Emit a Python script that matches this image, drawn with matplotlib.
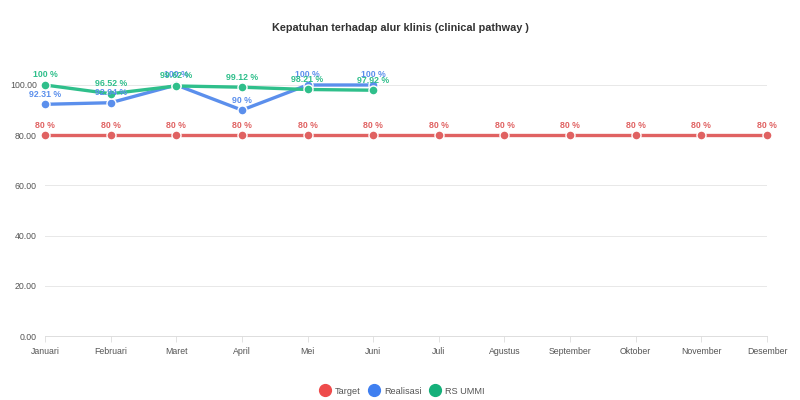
import matplotlib
matplotlib.use('Agg')
import matplotlib.pyplot as plt
from matplotlib.lines import Line2D

plt.rcParams['font.family'] = ['Liberation Sans', 'DejaVu Sans']

months = ['Januari', 'Februari', 'Maret', 'April', 'Mei', 'Juni', 'Juli',
          'Agustus', 'September', 'Oktober', 'November', 'Desember']
target = [80, 80, 80, 80, 80, 80, 80, 80, 80, 80, 80, 80]
realisasi = [92.31, 92.94, 100, 90, 100, 100]
rs_ummi = [100, 96.52, 99.62, 99.12, 98.21, 97.92]
y_ticks = [0, 20, 40, 60, 80, 100]

series = [
    ('Target', target, '#e06262', '#ee4b4b'),
    ('Realisasi', realisasi, '#5b8fec', '#3f7ff0'),
    ('RS UMMI', rs_ummi, '#2fbf8b', '#15b07a'),
]


def fmt(v):
    s = f"{v:.2f}".rstrip('0').rstrip('.')
    return f"{s} %"


fig = plt.figure(figsize=(8, 4), dpi=100)
ax = fig.add_axes([0.05625, 0.16, 0.9025, 0.6275])

for name, vals, line_c, dot_c in series:
    x = list(range(len(vals)))
    ax.plot(x, vals, color=line_c, linewidth=2.4, zorder=3, clip_on=False,
            solid_capstyle='round')
    ax.plot(x, vals, linestyle='none', marker='o', markersize=6.5,
            markerfacecolor=line_c, markeredgecolor='white', markeredgewidth=1.0,
            zorder=4, clip_on=False)
    for xi, v in zip(x, vals):
        ax.annotate(fmt(v), xy=(xi, v), xytext=(0, 4), textcoords='offset points',
                    ha='center', va='bottom', fontsize=6.3, fontweight='bold',
                    color=line_c, zorder=5, annotation_clip=False)

ax.set_xlim(0, len(months) - 1)
ax.set_ylim(0, 100)
ax.set_xticks(range(len(months)))
ax.set_xticklabels(months)
ax.set_yticks(y_ticks)
ax.set_yticklabels([f"{t:.2f}" for t in y_ticks])
ax.tick_params(axis='x', colors='#dddddd', labelcolor='#555555', labelsize=6.3,
               length=4, width=0.6, pad=4)
ax.tick_params(axis='y', length=0, labelcolor='#555555', labelsize=6.3, pad=6)
ax.grid(axis='y', color='#e8e8e8', linewidth=0.7, zorder=0)
for side in ['top', 'right', 'left']:
    ax.spines[side].set_visible(False)
ax.spines['bottom'].set_color('#dddddd')
ax.spines['bottom'].set_linewidth(0.7)

fig.text(0.5, 0.93, 'Kepatuhan terhadap alur klinis (clinical pathway )',
         ha='center', va='center', fontsize=7.8, fontweight='bold', color='#333333')

handles = [Line2D([], [], linestyle='none', marker='o', markersize=8.5,
                  markerfacecolor=dot_c, markeredgecolor=dot_c, label=name)
           for name, _, _, dot_c in series]
fig.legend(handles=handles, loc='center', bbox_to_anchor=(0.5, 0.022), ncol=3,
           frameon=False, fontsize=6.6, handletextpad=0.05, columnspacing=0.5,
           labelcolor='#555555')

plt.savefig('out.png', dpi=100)
plt.close()
